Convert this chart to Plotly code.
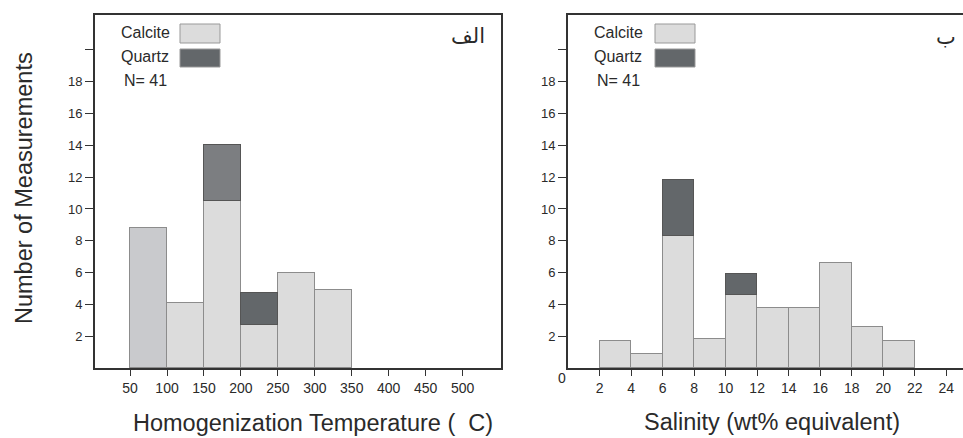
import plotly.graph_objects as go

W, H = 963, 438

# ---------------- data ----------------
temp_bin_left = [50, 100, 150, 200, 250, 300]
temp_bin_width = 50
temp_calcite = [8.8, 4.1, 10.5, 2.7, 6.0, 4.9]
temp_quartz = [0, 0, 3.5, 2.0, 0, 0]
temp_ticks = [50, 100, 150, 200, 250, 300, 350, 400, 450, 500]

sal_bin_left = [2, 4, 6, 8, 10, 12, 14, 16, 18, 20]
sal_bin_width = 2
sal_calcite = [1.7, 0.9, 8.3, 1.8, 4.6, 3.8, 3.8, 6.6, 2.6, 1.7]
sal_quartz = [0, 0, 3.5, 0, 1.3, 0, 0, 0, 0, 0]
sal_ticks = [2, 4, 6, 8, 10, 12, 14, 16, 18, 20, 22, 24]

y_ticks = [2, 4, 6, 8, 10, 12, 14, 16, 18, 20]
y_ticktext = ["2", "4", "6", "8", "10", "12", "14", "16", "18", ""]

# ---------------- styles ----------------
CALC = "#dcdcdc"
CALC_ALT = "#c9cacd"
QTZ = "#63676a"
QTZ_ALT = "#7c7e81"
EDGE = "#8c8c8c"
AX = "#333333"
TXT = "#2a2a2a"
FONT = "Liberation Sans, Arial, sans-serif"


def px(x):
    return x / W


def py(y):
    return 1 - y / H


fig = go.Figure()

# left panel bars
t_centers = [l + temp_bin_width / 2 for l in temp_bin_left]
t_calc_colors = [CALC_ALT] + [CALC] * (len(temp_bin_left) - 1)
t_qtz_colors = [QTZ_ALT if i == 2 else QTZ for i in range(len(temp_bin_left))]
fig.add_trace(go.Bar(x=t_centers, y=temp_calcite, width=temp_bin_width,
                     marker=dict(color=t_calc_colors, line=dict(color=EDGE, width=1)),
                     xaxis="x", yaxis="y", showlegend=False))
fig.add_trace(go.Bar(x=t_centers, y=[q if q else None for q in temp_quartz], width=temp_bin_width,
                     marker=dict(color=t_qtz_colors, line=dict(color="#555", width=1)),
                     xaxis="x", yaxis="y", showlegend=False))

# right panel bars
s_centers = [l + sal_bin_width / 2 for l in sal_bin_left]
fig.add_trace(go.Bar(x=s_centers, y=sal_calcite, width=sal_bin_width,
                     marker=dict(color=CALC, line=dict(color=EDGE, width=1)),
                     xaxis="x2", yaxis="y2", showlegend=False))
fig.add_trace(go.Bar(x=s_centers, y=[q if q else None for q in sal_quartz], width=sal_bin_width,
                     marker=dict(color=QTZ, line=dict(color="#555", width=1)),
                     xaxis="x2", yaxis="y2", showlegend=False))

y_dom = [py(368), py(15)]
yaxis_common = dict(range=[0, 22.2], tickvals=y_ticks, ticktext=y_ticktext,
                    ticks="outside", ticklen=8, tickwidth=1.2, tickcolor=AX,
                    showline=True, linecolor=AX, linewidth=2, showgrid=False,
                    zeroline=False, tickfont=dict(size=13, color=TXT, family=FONT),
                    domain=y_dom, fixedrange=True)

xaxis_common = dict(ticks="outside", ticklen=6, tickwidth=1.2, tickcolor=AX,
                    showline=True, linecolor=AX, linewidth=2, mirror=True,
                    showgrid=False, zeroline=False,
                    tickfont=dict(size=14, color=TXT, family=FONT))

fig.update_layout(
    width=W, height=H, margin=dict(l=0, r=0, t=0, b=0),
    paper_bgcolor="white", plot_bgcolor="white",
    barmode="stack", bargap=0,
    font=dict(family=FONT, color=TXT),
    xaxis=dict(domain=[px(95), px(501)], range=[2.5, 552], tickvals=temp_ticks,
               anchor="y", **xaxis_common),
    yaxis=dict(anchor="x", mirror=True, **yaxis_common),
    xaxis2=dict(domain=[px(568), 1.0], range=[0, 25.06], tickvals=sal_ticks,
                anchor="y2", **xaxis_common),
    yaxis2=dict(anchor="x2", **yaxis_common),
)

annotations = []
shapes = []


def text(x, y, s, size, xanchor="left", angle=0, family=FONT, color=TXT):
    annotations.append(dict(x=px(x), y=py(y), xref="paper", yref="paper", text=s,
                            showarrow=False, xanchor=xanchor, yanchor="middle",
                            textangle=angle, font=dict(size=size, family=family, color=color)))


def box(x0, y0, x1, y1, color):
    shapes.append(dict(type="rect", xref="paper", yref="paper",
                       x0=px(x0), x1=px(x1), y0=py(y1), y1=py(y0),
                       fillcolor=color, line=dict(color="#999", width=1)))


# legends
for lx, bx in [(119, 180), (592, 655)]:
    text(lx, 33, "Calcite", 16)
    text(lx, 57, "Quartz", 16)
    text(lx + 3, 81, "N= 41", 16)
    box(bx, 24, bx + 40, 43, CALC)
    box(bx, 49, bx + 40, 67, QTZ)

# panel labels
text(487, 36, "الف", 21, xanchor="right", family="DejaVu Sans")
text(958, 37, "ب", 21, xanchor="right", family="DejaVu Sans")

# origin label on right panel
text(562, 378, "0", 14, xanchor="center")

# axis titles
text(313, 423, "Homogenization Temperature (  C)", 23.5, xanchor="center")
text(772, 422, "Salinity (wt% equivalent)", 23.5, xanchor="center")
text(24, 188, "Number of Measurements", 23.5, xanchor="center", angle=-90)

fig.update_layout(annotations=annotations, shapes=shapes)
fig.write_html("out.html")
